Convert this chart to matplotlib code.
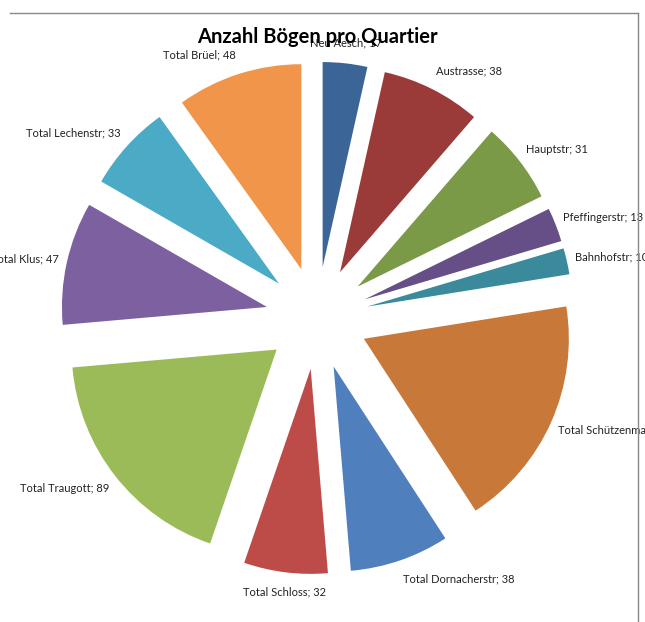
import matplotlib.pyplot as plt
from matplotlib.patches import Rectangle
from matplotlib.lines import Line2D

plt.rcParams['font.family'] = ['Lato', 'DejaVu Sans']

# Daten: Anzahl Bögen pro Quartier (Uhrzeigersinn ab 12 Uhr)
names = ['Neu Aesch', 'Austrasse', 'Hauptstr', 'Pfeffingerstr', 'Bahnhofstr',
         'Total Schützenmatt', 'Total Dornacherstr', 'Total Schloss',
         'Total Traugott', 'Total Klus', 'Total Lechenstr', 'Total Brüel']
values = [17, 38, 31, 13, 10, 89, 38, 32, 89, 47, 33, 48]
colors = ['#3b6597', '#9a3b3a', '#7a9a48', '#654f86', '#3a8a9c', '#c8793a',
          '#4f7fbd', '#bd4c49', '#9bbb59', '#7d60a0', '#4babc6', '#f0954a']

labels = ['%s; %d' % (n, v) for n, v in zip(names, values)]

fig = plt.figure(figsize=(6.45, 6.22), dpi=100)
ax = fig.add_axes([0, 0, 1, 1])

r_px = 205.0
cx, cy = 317.0, 622 - 318.0
wedges, texts = ax.pie(values, labels=labels, colors=colors, startangle=90,
                       counterclock=False, explode=[0.25] * len(values),
                       labeldistance=1.065,
                       textprops={'fontsize': 8, 'color': '#222222'})

ax.set_xlim(-cx / r_px, (645 - cx) / r_px)
ax.set_ylim(-cy / r_px, (622 - cy) / r_px)
ax.set_aspect('auto')
ax.axis('off')

# Rahmen des Diagrammbereichs (oben und rechts sichtbar)
fig.add_artist(Line2D([10 / 645, 638 / 645], [1 - 13 / 622, 1 - 13 / 622],
                      transform=fig.transFigure, color='#888888', lw=1))
fig.add_artist(Line2D([638 / 645, 638 / 645], [0, 1 - 13 / 622],
                      transform=fig.transFigure, color='#888888', lw=1))

clip = Rectangle((0, 0), 638 / 645, 1, transform=fig.transFigure)
for t in texts:
    t.set_clip_path(clip)
    x, y = t.get_position()
    # Excel setzt die Beschriftungen etwas weiter oben/unten
    t.set_position((x * 0.98, y * 1.025))
    # Beschriftungen nahe der Senkrechten zentriert, wie in Excel
    if abs(x) < 0.4:
        t.set_ha('center')

fig.text(317 / 645, 1 - 37 / 622, 'Anzahl Bögen pro Quartier', ha='center',
         va='center', fontsize=14.5, fontweight='bold', color='black', zorder=10)

plt.savefig('out.png', dpi=100)
